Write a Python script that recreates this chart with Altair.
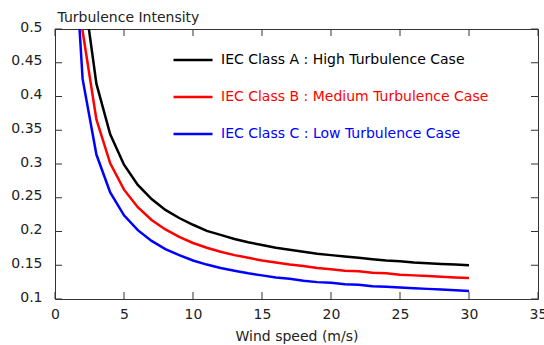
import altair as alt
import pandas as pd

wind = list(range(1, 31))
class_a = [1.016, 0.568, 0.419, 0.344, 0.299, 0.269, 0.248, 0.232, 0.220, 0.210,
           0.201, 0.195, 0.189, 0.184, 0.180, 0.176, 0.173, 0.170, 0.167, 0.165,
           0.163, 0.161, 0.159, 0.157, 0.156, 0.154, 0.153, 0.152, 0.151, 0.150]
class_b = [0.889, 0.497, 0.366, 0.301, 0.262, 0.236, 0.217, 0.203, 0.192, 0.183,
           0.176, 0.170, 0.165, 0.161, 0.157, 0.154, 0.151, 0.149, 0.146, 0.144,
           0.142, 0.141, 0.139, 0.138, 0.136, 0.135, 0.134, 0.133, 0.132, 0.131]
class_c = [0.762, 0.426, 0.314, 0.258, 0.224, 0.202, 0.186, 0.174, 0.165, 0.157,
           0.151, 0.146, 0.142, 0.138, 0.135, 0.132, 0.130, 0.127, 0.125, 0.124,
           0.122, 0.121, 0.119, 0.118, 0.117, 0.116, 0.115, 0.114, 0.113, 0.112]
series_names = ["IEC Class A : High Turbulence Case",
                "IEC Class B : Medium Turbulence Case",
                "IEC Class C : Low Turbulence Case"]
series_colors = ["#000000", "#ff0000", "#0000ff"]
x_ticks = [0, 5, 10, 15, 20, 25, 30, 35]
y_ticks = [0.1, 0.15, 0.2, 0.25, 0.3, 0.35, 0.4, 0.45, 0.5]

rows = []
for name, vals in zip(series_names, [class_a, class_b, class_c]):
    for v, ti in zip(wind, vals):
        rows.append({"V": v, "TI": ti, "Series": name})
df = pd.DataFrame(rows)
xt = pd.DataFrame({"V": x_ticks})
yt = pd.DataFrame({"TI": y_ticks})

FONT = "DejaVu Sans"
TXT = "#222222"
TICK = "#333333"
W, H, TL = 483, 270, 7

label_color_expr = " : ".join(
    f"datum.value === '{n}' ? '{c}'" for n, c in zip(series_names[:-1], series_colors[:-1])
) + f" : '{series_colors[-1]}'"

xscale = alt.Scale(domain=[0, 35], nice=False, zero=False)
yscale = alt.Scale(domain=[0.1, 0.5], nice=False, zero=False)

x_axis = alt.Axis(values=x_ticks, title="Wind speed (m/s)", orient="bottom",
                  grid=False, domain=False, ticks=False, tickSize=0,
                  labelOverlap=False, labelFlush=False,
                  labelFont=FONT, labelFontSize=14, labelColor=TXT, labelPadding=8,
                  titleFont=FONT, titleFontSize=14, titleFontWeight="normal",
                  titleColor=TXT, titleBaseline="alphabetic", titleY=41)
y_axis = alt.Axis(values=y_ticks, format=".2~f", title="Turbulence Intensity",
                  orient="left", grid=False, domain=False, ticks=False, tickSize=0,
                  labelOverlap=False, labelFlush=False,
                  labelFont=FONT, labelFontSize=14,
                  labelColor=TXT, labelPadding=13, labelOffset=-2,
                  titleFont=FONT, titleFontSize=14, titleFontWeight="normal",
                  titleColor=TXT, titleAngle=0, titleAlign="left",
                  titleBaseline="alphabetic", titleX=2, titleY=-8)

main = alt.Chart(df).mark_line(clip=True, strokeWidth=2.5).encode(
    x=alt.X("V:Q", scale=xscale, axis=x_axis),
    y=alt.Y("TI:Q", scale=yscale, axis=y_axis),
    color=alt.Color("Series:N",
                    scale=alt.Scale(domain=series_names, range=series_colors),
                    sort=series_names,
                    legend=alt.Legend(title=None, orient="none", legendX=117, legendY=10,
                                      direction="vertical", symbolType="stroke",
                                      symbolSize=1521, symbolStrokeWidth=2.5,
                                      labelFont=FONT, labelFontSize=14, labelOffset=7,
                                      labelLimit=400, rowPadding=9, padding=0,
                                      labelColor={"expr": label_color_expr})),
)

bottom_ticks = alt.Chart(xt).mark_rule(color=TICK, strokeWidth=1).encode(
    x=alt.X("V:Q", scale=xscale, axis=x_axis), y=alt.value(H), y2=alt.value(H - TL))
top_ticks = alt.Chart(xt).mark_rule(color=TICK, strokeWidth=1).encode(
    x=alt.X("V:Q", scale=xscale, axis=x_axis), y=alt.value(0), y2=alt.value(TL))
left_ticks = alt.Chart(yt).mark_rule(color=TICK, strokeWidth=1).encode(
    y=alt.Y("TI:Q", scale=yscale, axis=y_axis), x=alt.value(0), x2=alt.value(TL))
right_ticks = alt.Chart(yt).mark_rule(color=TICK, strokeWidth=1).encode(
    y=alt.Y("TI:Q", scale=yscale, axis=y_axis), x=alt.value(W), x2=alt.value(W - TL))

chart = alt.layer(main, bottom_ticks, top_ticks, left_ticks, right_ticks).properties(
    width=W, height=H,
    padding={"left": 55, "top": 29, "right": 6, "bottom": 46},
    autosize=alt.AutoSizeParams(type="none"),
    background="white",
).configure_view(stroke="#333333", strokeWidth=1)

chart.save("out.html", embed_options={"renderer": "svg", "actions": False})
